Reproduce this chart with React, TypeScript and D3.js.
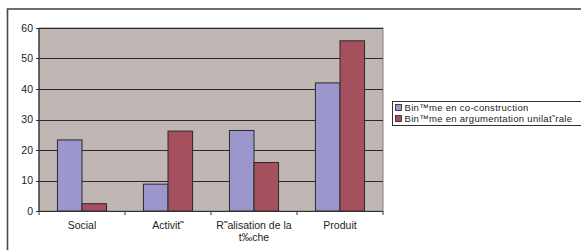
import React from 'react';
import * as d3 from 'd3';

const categories = ['Social', 'Activit˜', 'R˜alisation de la|t‰che', 'Produit'];
const seriesNames = ['Bin™me en co-construction', 'Bin™me en argumentation unilat˜rale'];
const coConstruction = [23.3, 8.8, 26.4, 42];
const unilaterale = [2.4, 26.2, 15.9, 55.8];
const yTicks = [0, 10, 20, 30, 40, 50, 60];
const colors = ['#9B96CB', '#A5505F'];

const W = 581;
const H = 250;
const plot = { left: 39, right: 383, top: 28, bottom: 211 };
const font = 'Arial, "Liberation Sans", sans-serif';

const App = () => {
    const x = d3.scaleBand()
        .domain(categories)
        .range([plot.left, plot.right])
        .paddingInner(0)
        .paddingOuter(0);

    // two bars take ~57% of each category, the rest is gap
    const inner = d3.scaleBand()
        .domain(seriesNames)
        .range([x.bandwidth() * 0.2143, x.bandwidth() * (1 - 0.2143)]);

    const y = d3.scaleLinear()
        .domain([0, 60])
        .range([plot.bottom, plot.top]);

    const values = [coConstruction, unilaterale];

    return (
        <svg width={W} height={H} style={{ position: 'absolute', left: 0, top: 0, background: '#fff' }}>
            <rect x={7.5} y={9} width={700} height={400} fill="#fff" stroke="#4a4a4a" strokeWidth={1.6} />

            <rect x={plot.left} y={plot.top} width={plot.right - plot.left} height={plot.bottom - plot.top}
                fill="#C0B6B3" stroke="#808080" strokeWidth={1} />

            {yTicks.filter(t => t > 0).map(t => (
                <line key={'g' + t} x1={plot.left} x2={plot.right} y1={Math.round(y(t)) + 0.5} y2={Math.round(y(t)) + 0.5}
                    stroke="#2a2a2a" strokeWidth={1} />
            ))}

            {values.map((vals, si) => vals.map((v, ci) => (
                <rect key={`b${si}-${ci}`}
                    x={x(categories[ci])! + inner(seriesNames[si])!}
                    y={y(v)}
                    width={inner.bandwidth()}
                    height={y(0) - y(v)}
                    fill={colors[si]} stroke="#2a2a2a" strokeWidth={1} />
            )))}

            <line x1={plot.left} x2={plot.left} y1={plot.top} y2={plot.bottom} stroke="#333" strokeWidth={1.2} />
            <line x1={plot.left} x2={plot.right} y1={plot.bottom + 0.5} y2={plot.bottom + 0.5} stroke="#333" strokeWidth={1.2} />

            {yTicks.map(t => (
                <g key={'t' + t}>
                    <line x1={plot.left - 3} x2={plot.left} y1={Math.round(y(t)) + 0.5} y2={Math.round(y(t)) + 0.5} stroke="#333" />
                    <text x={plot.left - 6} y={y(t)} dy="0.35em" textAnchor="end" fontFamily={font} fontSize={10.5} fill="#222">{t}</text>
                </g>
            ))}

            {[...categories.map(c => x(c)!), plot.right].map((px, i) => (
                <line key={'xt' + i} x1={px} x2={px} y1={plot.bottom} y2={plot.bottom + 4} stroke="#333" />
            ))}

            {categories.map(c => (
                <text key={c} x={x(c)! + x.bandwidth() / 2} y={229} textAnchor="middle" fontFamily={font} fontSize={10.5} fill="#222">
                    {c.split('|').map((line, i) => (
                        <tspan key={i} x={x(c)! + x.bandwidth() / 2} dy={i === 0 ? 0 : 12}>{line}</tspan>
                    ))}
                </text>
            ))}

            <g transform="translate(392.5, 101.5)">
                <rect x={0} y={0} width={250} height={24} fill="#fff" stroke="#333" strokeWidth={1} />
                {seriesNames.map((s, i) => (
                    <g key={s} transform={`translate(3, ${3 + i * 11})`}>
                        <rect x={0} y={0} width={6} height={6} fill={colors[i]} stroke="#222" strokeWidth={0.8} />
                        <text x={9} y={3} dy="0.35em" fontFamily={font} fontSize={9.5} letterSpacing={0.3} fill="#222">{s}</text>
                    </g>
                ))}
            </g>
        </svg>
    );
};

export default App;
